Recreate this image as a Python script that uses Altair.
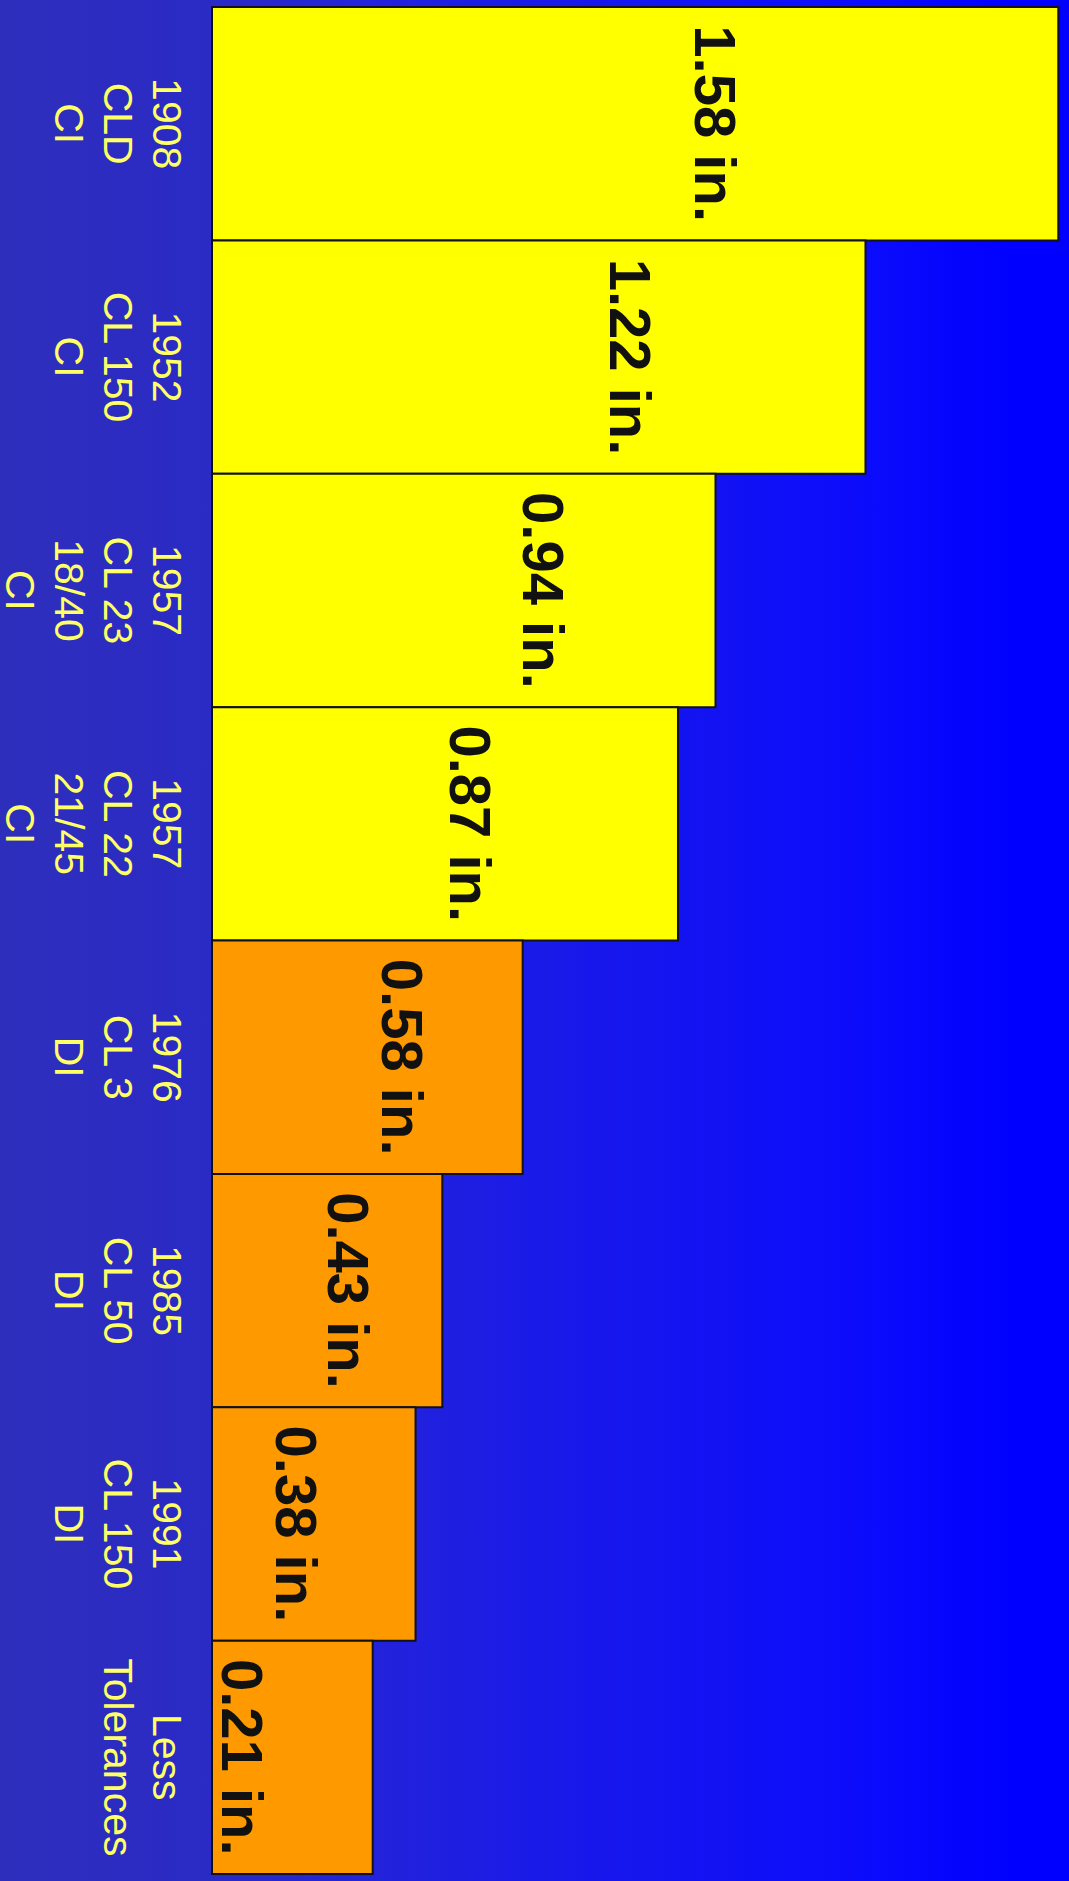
import altair as alt
import pandas as pd

# ---- data ----
categories = [
    "1908|CLD|CI",
    "1952|CL 150|CI",
    "1957|CL 23|18/40|CI",
    "1957|CL 22|21/45|CI",
    "1976|CL 3|DI",
    "1985|CL 50|DI",
    "1991|CL 150|DI",
    "Less|Tolerances",
]
bar_lengths = [1.58, 1.22, 0.94, 0.87, 0.58, 0.43, 0.38, 0.30]   # inches, as drawn
value_labels = ["1.58 in.", "1.22 in.", "0.94 in.", "0.87 in.",
                "0.58 in.", "0.43 in.", "0.38 in.", "0.21 in."]
label_at = [0.902, 0.743, 0.581, 0.444, 0.317, 0.217, 0.119, 0.019]  # inches, where each label sits
material = ["CI", "CI", "CI", "CI", "DI", "DI", "DI", "DI"]

df = pd.DataFrame({
    "cat": categories,
    "len": bar_lengths,
    "label": value_labels,
    "pos": label_at,
    "mat": material,
})

W, H = 857, 1867
FONT = "Liberation Sans, Arial, Helvetica, sans-serif"

ycat = alt.Y(
    "cat:N",
    sort=None,
    scale=alt.Scale(paddingInner=0, paddingOuter=0),
    axis=alt.Axis(
        title=None,
        domain=False,
        ticks=False,
        tickSize=0,
        labelAngle=90,
        labelAlign="center",
        labelBaseline="top",
        labelPadding=28,
        labelFontSize=41,
        labelLineHeight=49,
        labelFont=FONT,
        labelColor="#FFFF66",
        labelExpr="split(datum.label, '|')",
        labelOverlap=False,
        labelLimit=0,
        zindex=1,
    ),
)
xlen = alt.X("len:Q", scale=alt.Scale(domain=[0, 1.6], nice=False, zero=True), axis=None)

gradient = alt.Gradient(
    gradient="linear",
    stops=[
        alt.GradientStop(color="#2E2EBC", offset=0.0),
        alt.GradientStop(color="#2A2AC6", offset=0.2),
        alt.GradientStop(color="#2222DC", offset=0.36),
        alt.GradientStop(color="#1616EE", offset=0.58),
        alt.GradientStop(color="#0C0CFC", offset=0.8),
        alt.GradientStop(color="#0000FF", offset=0.95),
        alt.GradientStop(color="#0000FF", offset=1.0),
    ],
    x1=0, x2=1, y1=0, y2=0,
)

bg = alt.Chart(pd.DataFrame({"a": [0]})).mark_rect(fill=gradient).encode(
    x=alt.value(-212), x2=alt.value(W), y=alt.value(-7), y2=alt.value(H + 7)
)

bars = alt.Chart(df).mark_bar(stroke="#111111", strokeWidth=2).encode(
    y=ycat,
    x=xlen,
    color=alt.Color("mat:N", scale=alt.Scale(domain=["CI", "DI"], range=["#FFFF00", "#FF9900"]), legend=None),
)

texts = alt.Chart(df).mark_text(
    angle=90, align="center", baseline="alphabetic",
    fontSize=58, fontWeight="bold", font=FONT, color="#111111",
).encode(
    y=alt.Y("cat:N", sort=None),
    x=alt.X("pos:Q"),
    text="label:N",
)

chart = alt.layer(bg, bars, texts).properties(
    width=W, height=H,
    autosize=alt.AutoSizeParams(type="none"),
    padding={"left": 212, "top": 7, "right": 0, "bottom": 7},
    background="#2D2DBF",
).configure_view(stroke=None)

chart.save("out.html", embed_options={"renderer": "svg", "actions": False})
